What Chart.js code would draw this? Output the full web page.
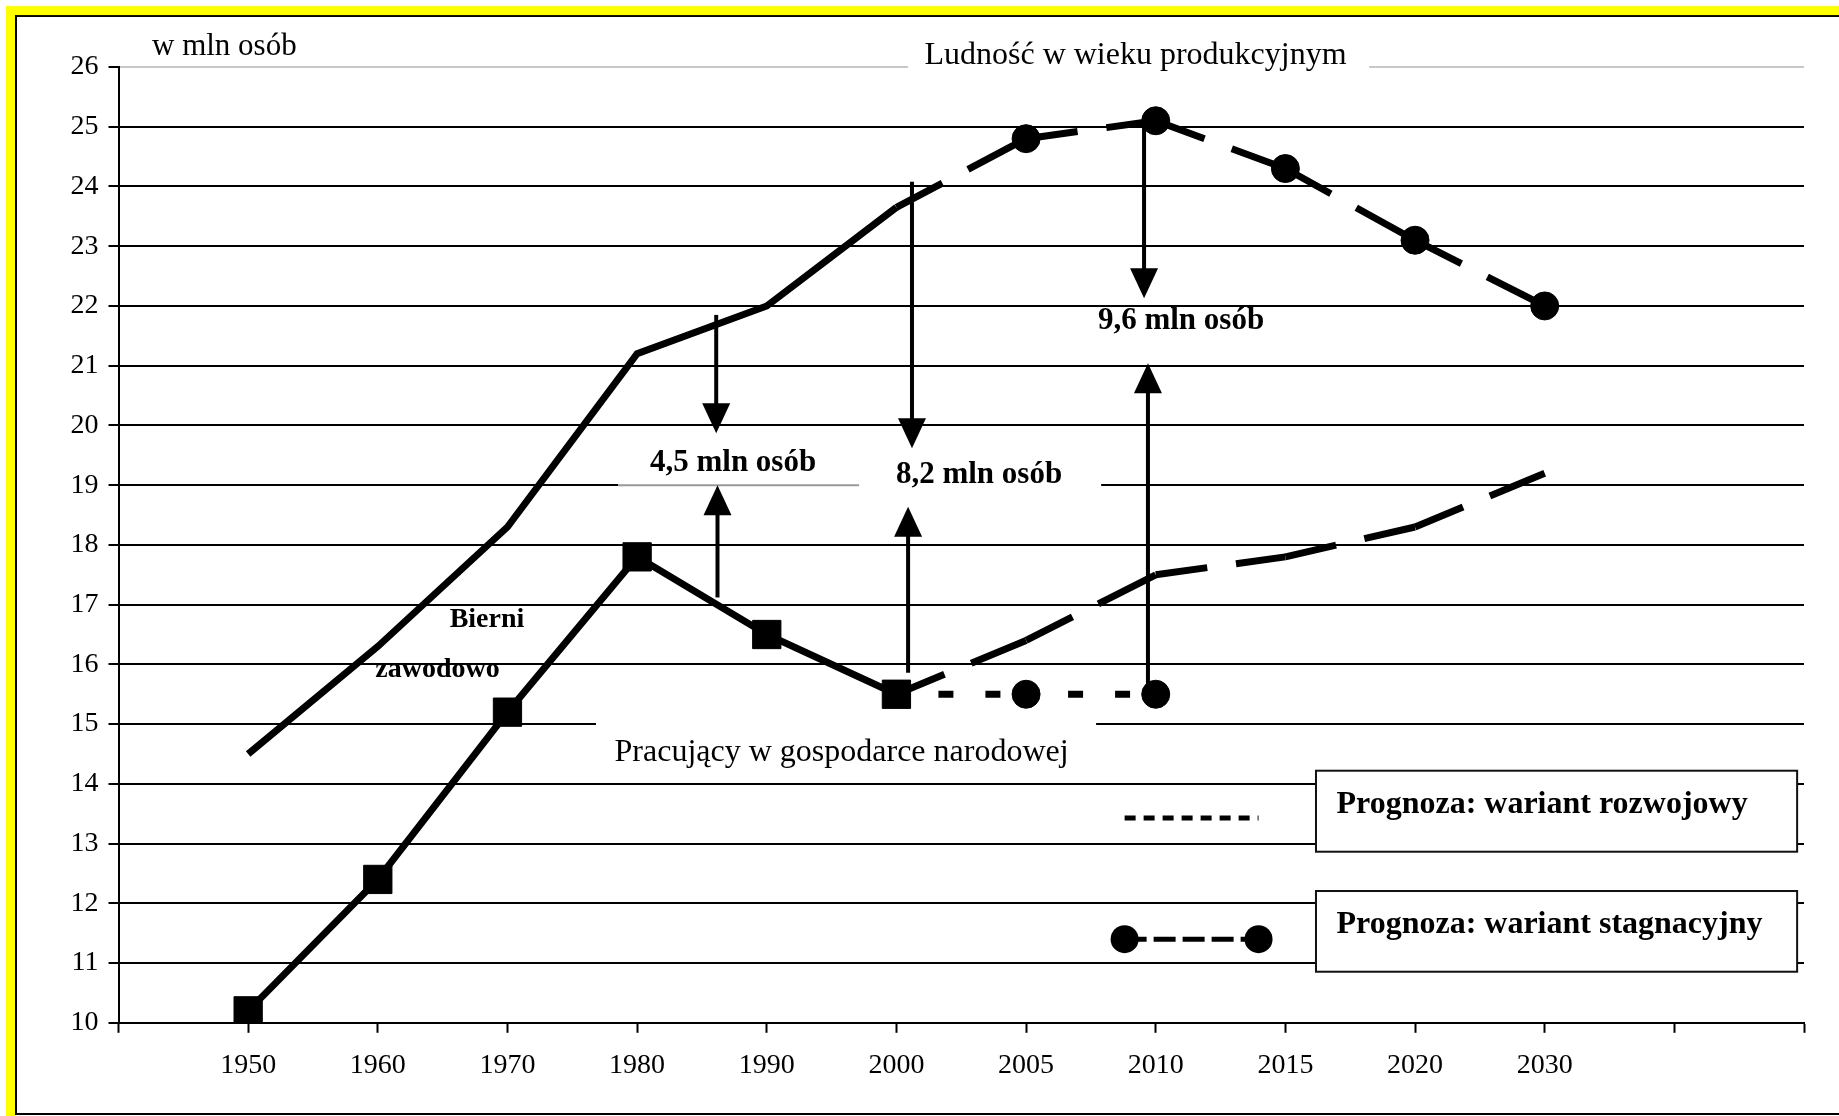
<!DOCTYPE html>
<html lang="pl">
<head>
<meta charset="utf-8">
<title>Ludność w wieku produkcyjnym i pracujący</title>
<script src="https://cdn.jsdelivr.net/npm/chart.js@4.4.1/dist/chart.umd.min.js"></script>
<style>
  html, body { margin: 0; padding: 0; background: #fff; }
  #wykres { display: block; }
</style>
</head>
<body>
<canvas id="wykres" width="1839" height="1116"></canvas>
<script>
// Dane wykresu (mln osób)
const lata = ['', '1950', '1960', '1970', '1980', '1990', '2000', '2005', '2010', '2015', '2020', '2030', '', ''];
const ludnosc = [null, 14.5, 16.3, 18.3, 21.2, 22.0, 23.65, null, null, null, null, null, null, null];
const ludnoscPrognoza = [null, null, null, null, null, null, 23.65, 24.8, 25.1, 24.3, 23.1, 22.0, null, null];
const pracujacy = [null, 10.2, 12.4, 15.2, 17.8, 16.5, 15.5, null, null, null, null, null, null, null];
const wariantRozwojowy = [null, null, null, null, null, null, 15.5, 16.4, 17.5, 17.8, 18.3, 19.2, null, null];
const wariantStagnacyjny = [null, null, null, null, null, null, 15.5, 15.5, 15.5, null, null, null, null, null];
const skalaY = { min: 10, max: 26, krok: 1 };

const FONT = "'Liberation Serif', 'Times New Roman', serif";

// Strzałki: [x (indeks kategorii), od wartości, do wartości (grot)]
const strzalki = [
    [4.61, 21.85, 19.87],
    [4.62, 17.12, 19.0],
    [6.12, 24.08, 19.62],
    [6.09, 15.86, 18.64],
    [7.91, 25.1, 22.13],
    [7.94, 15.52, 21.04]
];

// Przerywana linia zaczynana od nowa na każdym odcinku (jak w Excelu)
const kreska = (wzor, przes) => ({
    borderDash: wzor,
    segment: {
        borderDashOffset: c => przes + (c.p0DataIndex % 2) * (wzor[0] + wzor[1])
    }
});

// Ramka, białe pola pod opisami i legenda
const dekoracje = {
    id: 'dekoracje',
    beforeDraw(chart) {
        const c = chart.ctx;
        c.save();
        c.fillStyle = '#fff';
        c.fillRect(0, 0, chart.width, chart.height);
        c.fillStyle = '#ffff00';
        c.fillRect(6, 6, chart.width - 6, 9);
        c.fillRect(6, 6, 9, chart.height - 6);
        c.fillStyle = '#000';
        c.fillRect(15, 15, chart.width - 15, 2);
        c.fillRect(15, 15, 2, 1098);
        c.fillRect(15, 1113, chart.width - 15, 2);
        c.restore();
    },
    beforeDatasetsDraw(chart) {
        const c = chart.ctx;
        const xs = chart.scales.x, ys = chart.scales.y;
        const px = v => xs.getPixelForValue(v), py = v => ys.getPixelForValue(v);
        c.save();
        c.fillStyle = '#fff';
        // pola tekstowe zasłaniające linie siatki
        c.fillRect(px(6.09), py(26) - 8, px(9.646) - px(6.09), 16);
        c.fillRect(px(3.683), py(15) - 8, px(7.54) - px(3.683), 16);
        c.fillRect(px(3.853), py(19) - 8, px(7.579) - px(3.853), 16);
        c.strokeStyle = '#999';
        c.lineWidth = 2;
        c.beginPath();
        c.moveTo(px(3.853), py(19));
        c.lineTo(px(5.712), py(19));
        c.stroke();
        // ramki legendy
        c.strokeStyle = '#111';
        c.lineWidth = 2;
        [[14.22, 12.864], [12.206, 10.855]].forEach(([g, d]) => {
            const x0 = px(9.236), x1 = px(12.947);
            c.fillRect(x0, py(g), x1 - x0, py(d) - py(g));
            c.strokeRect(x0, py(g), x1 - x0, py(d) - py(g));
        });
        c.restore();
    },
    afterDatasetsDraw(chart) {
        const c = chart.ctx;
        const xs = chart.scales.x, ys = chart.scales.y;
        const px = v => xs.getPixelForValue(v), py = v => ys.getPixelForValue(v);
        c.save();
        c.fillStyle = '#000';
        c.strokeStyle = '#000';

        // strzałki
        c.lineWidth = 4;
        strzalki.forEach(([xi, od, doW]) => {
            const x = px(xi), y0 = py(od), y1 = py(doW);
            const kier = y1 < y0 ? -1 : 1;
            c.beginPath();
            c.moveTo(x, y0);
            c.lineTo(x, y1 - kier * 28);
            c.stroke();
            c.beginPath();
            c.moveTo(x, y1);
            c.lineTo(x - 14, y1 - kier * 30);
            c.lineTo(x + 14, y1 - kier * 30);
            c.closePath();
            c.fill();
        });

        // opisy
        c.textBaseline = 'alphabetic';
        c.textAlign = 'center';
        c.font = 'bold 31px ' + FONT;
        c.fillText('4,5 mln osób', px(4.74), py(19.24));
        c.fillText('8,2 mln osób', px(6.637), py(19.04));
        c.fillText('9,6 mln osób', px(8.195), py(21.61));
        c.font = 'bold 28px ' + FONT;
        c.fillText('Bierni', px(2.842), py(16.62));
        c.fillText('zawodowo', px(2.46), py(15.79));
        c.font = '32px ' + FONT;
        c.fillText('Ludność w wieku produkcyjnym', px(7.844), py(26.05));
        c.fillText('Pracujący w gospodarce narodowej', px(5.577), py(14.39));
        c.textAlign = 'left';
        c.font = '31px ' + FONT;
        c.fillText('w mln osób', 152, 55);

        // legenda
        c.font = 'bold 32px ' + FONT;
        c.fillText('Prognoza: wariant rozwojowy', px(9.394), py(13.51));
        c.fillText('Prognoza: wariant stagnacyjny', px(9.394), py(11.5));
        const l0 = px(7.76), l1 = px(8.793);
        c.lineWidth = 5;
        c.setLineDash([11, 8]);
        c.beginPath();
        c.moveTo(l0, py(13.43));
        c.lineTo(l1, py(13.43));
        c.stroke();
        c.setLineDash([22, 7]);
        c.beginPath();
        c.moveTo(l0, py(11.4));
        c.lineTo(l1, py(11.4));
        c.stroke();
        c.setLineDash([]);
        [l0, l1].forEach(x => {
            c.beginPath();
            c.arc(x, py(11.4), 14, 0, Math.PI * 2);
            c.fill();
        });
        c.restore();
    }
};

const ctx = document.getElementById('wykres').getContext('2d');
const wykres = new Chart(ctx, {
    type: 'line',
    data: {
        labels: lata,
        datasets: [{
            label: 'Ludność w wieku produkcyjnym',
            data: ludnosc,
            borderColor: '#000',
            borderWidth: 7,
            pointRadius: 0
        }, {
            label: 'Ludność - prognoza',
            data: ludnoscPrognoza,
            borderColor: '#000',
            borderWidth: 7,
            ...kreska([112, 29], 60),
            pointStyle: 'circle',
            pointRadius: c => (c.dataIndex === 6 ? 0 : 14),
            pointBackgroundColor: '#000',
            pointBorderColor: '#000',
            pointBorderWidth: 1
        }, {
            label: 'Pracujący w gospodarce narodowej',
            data: pracujacy,
            borderColor: '#000',
            borderWidth: 7,
            pointStyle: 'rect',
            pointRadius: 20,
            pointBackgroundColor: '#000',
            pointBorderColor: '#000',
            pointBorderWidth: 1
        }, {
            label: 'Prognoza: wariant rozwojowy',
            data: wariantRozwojowy,
            borderColor: '#000',
            borderWidth: 7,
            ...kreska([112, 29], 60),
            pointRadius: 0
        }, {
            label: 'Prognoza: wariant stagnacyjny',
            data: wariantStagnacyjny,
            borderColor: '#000',
            borderWidth: 7,
            ...kreska([15, 32], 5),
            pointStyle: 'circle',
            pointRadius: c => (c.dataIndex === 6 ? 0 : 14),
            pointBackgroundColor: '#000',
            pointBorderColor: '#000',
            pointBorderWidth: 1
        }]
    },
    options: {
        responsive: false,
        animation: false,
        layout: { padding: { top: 67, right: 35, left: 0, bottom: 0 } },
        plugins: {
            legend: { display: false },
            tooltip: { enabled: false }
        },
        scales: {
            x: {
                offset: false,
                grid: { offset: false, drawOnChartArea: false, tickLength: 10, tickColor: '#000', tickWidth: 2 },
                border: { color: '#000', width: 2 },
                ticks: { color: '#000', font: { family: FONT, size: 28 }, padding: 16, autoSkip: false, maxRotation: 0 },
                afterFit: s => { s.height = 93.2; }
            },
            y: {
                min: skalaY.min,
                max: skalaY.max,
                ticks: { stepSize: skalaY.krok, color: '#000', font: { family: FONT, size: 28 }, padding: 10 },
                grid: {
                    color: c => (c.tick && c.tick.value === skalaY.max ? '#c8c8c8' : '#000'),
                    lineWidth: 2,
                    tickLength: 10,
                    tickColor: '#000',
                    tickWidth: 2
                },
                border: { color: '#000', width: 2 },
                afterFit: s => { s.width = 118.5; }
            }
        }
    },
    plugins: [dekoracje]
});
</script>
</body>
</html>
